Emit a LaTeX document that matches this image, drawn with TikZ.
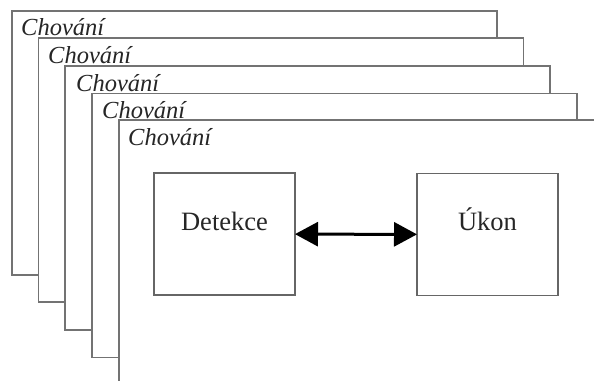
\documentclass[tikz,border=0pt]{standalone}
\usepackage{fontspec}
\setmainfont{Liberation Serif}
\usetikzlibrary{arrows.meta}
\begin{document}
\begin{tikzpicture}[x=1pt,y=-1pt,
  frame/.style={draw=black!55, line width=1.3pt, fill=white, inner sep=0pt, outer sep=0pt,
    minimum width=485pt, minimum height=264pt, anchor=north west},
  lbl/.style={font=\fontsize{24.5}{28}\selectfont\itshape, text=black!85, inner sep=0pt, anchor=base west},
  blk/.style={draw=black!60, line width=1.3pt, fill=white, inner sep=0pt, outer sep=0pt,
    minimum width=141pt, minimum height=122pt},
  txt/.style={font=\fontsize{26.5}{30}\selectfont, text=black!85, inner sep=0pt, anchor=base},
  link/.style={line width=3pt, {Triangle[length=23pt,width=24pt]}-{Triangle[length=23pt,width=24pt]}}]
\useasboundingbox (0,0) rectangle (594,380);
\clip (0,0) rectangle (594,380);
% stacked behaviour layers
\node[frame] (f1) at (12,11) {};
\node[lbl] (l1) at (21,35) {Chování};
\node[frame] (f2) at (38.5,38) {};
\node[lbl] (l2) at (48,63) {Chování};
\node[frame] (f3) at (65,66) {};
\node[lbl] (l3) at (76,91) {Chování};
\node[frame] (f4) at (92,93.5) {};
\node[lbl] (l4) at (102,118) {Chování};
\node[frame, minimum width=520pt, minimum height=300pt] (f5) at (119,120) {};
\node[lbl] (l5) at (128,145) {Chování};
% inner blocks
\node[blk] (det) at (224.5,234) {};
\node[txt] (detl) at (224.5,230) {Detekce};
\node[blk] (ukon) at (487.5,234.5) {};
\node[txt] (ukonl) at (487.5,230) {Úkon};
\draw[link] (det) -- (ukon);
\end{tikzpicture}
\end{document}
